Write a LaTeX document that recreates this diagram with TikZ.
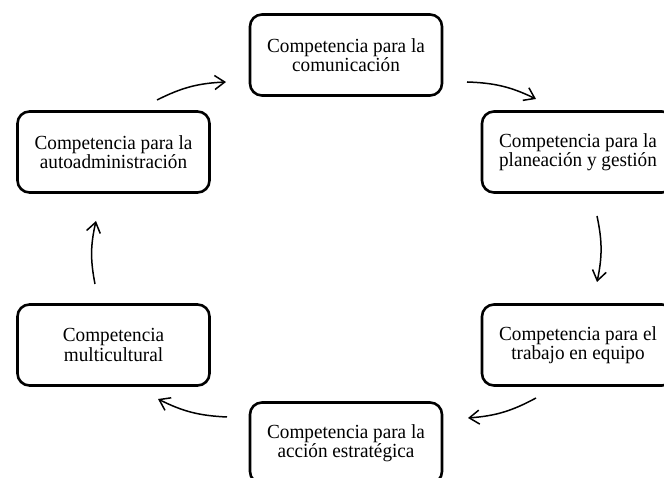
\documentclass[tikz,border=0pt]{standalone}
\usepackage{fontspec}
\setmainfont{Liberation Serif}[FakeStretch=0.96]
\usetikzlibrary{arrows.meta}
\begin{document}
\begin{tikzpicture}[x=1pt,y=1pt,
  box/.style={draw, line width=2.6pt, rounded corners=12pt, minimum width=192pt,
    minimum height=81pt, align=center, inner sep=0pt,
    font=\fontsize{20}{19.5}\selectfont},
  conn/.style={line width=1.5pt, -{Straight Barb[length=10pt,width=14pt,line width=1.5pt]}, bend left=12}]
\useasboundingbox (0,0) rectangle (664,478);
\clip (0,0) rectangle (664,478);
\node[box] (com) at (346,423) {Competencia para la\\comunicación};
\node[box] (auto) at (113.5,326) {Competencia para la\\autoadministración};
\node[box] (plan) at (578,326) {Competencia para la\\planeación y gestión};
\node[box] (multi) at (113.5,133) {Competencia\\multicultural};
\node[box] (trab) at (578,133) {Competencia para el\\trabajo en equipo};
\node[box] (acc) at (346,35) {Competencia para la\\acción estratégica};
\coordinate (a1s) at (157,378); \coordinate (a1e) at (226,396);
\coordinate (a2s) at (467,396); \coordinate (a2e) at (536,379);
\coordinate (a3s) at (597,262); \coordinate (a3e) at (597,196);
\coordinate (a4s) at (536,80);  \coordinate (a4e) at (468,60);
\coordinate (a5s) at (227,61);  \coordinate (a5e) at (158,79);
\coordinate (a6s) at (95,194);  \coordinate (a6e) at (96,257);
\draw[conn] (a1s) to (a1e);
\draw[conn] (a2s) to (a2e);
\draw[conn] (a3s) to (a3e);
\draw[conn] (a4s) to (a4e);
\draw[conn] (a5s) to (a5e);
\draw[conn] (a6s) to (a6e);
\end{tikzpicture}
\end{document}
